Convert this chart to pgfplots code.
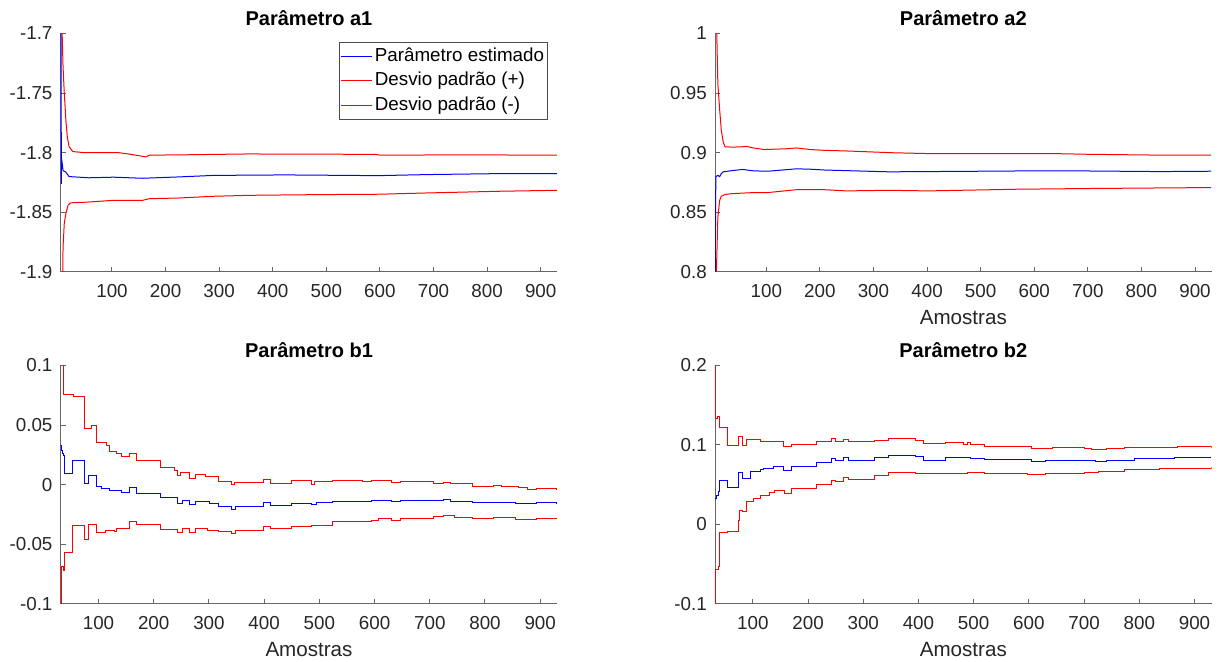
\documentclass[border=0pt]{standalone}
\usepackage{fontspec}
\setmainfont{Liberation Sans}
\usepackage{pgfplots}
\pgfplotsset{compat=1.18}
\pgfplotsset{
 mstyle/.style={
  scale only axis, width=248.3pt, height=119.25pt,
  axis x line*=bottom, axis y line*=left,
  axis line style={black!60, line width=0.5pt, -},
  tick style={black!60, line width=0.5pt},
  tick align=inside, major tick length=2.5pt,
  xtick={100,200,...,900},
  ticklabel style={font=\fontsize{9.4}{11}\selectfont, text=black!85},
  /pgf/number format/assume math mode=true,
  xticklabel style={yshift=-2.5pt},
  yticklabel style={xshift=-0.6pt},
  every axis title shift=0pt,
  title style={font=\bfseries\fontsize{10}{12}\selectfont, at={(0.5,1)}, anchor=base, yshift=4pt},
  xlabel style={font=\fontsize{10.3}{12}\selectfont, text=black!85, at={(0.5,0)}, anchor=north, yshift=-15.4pt},
  every axis plot/.append style={line width=0.5pt},
 },
 astyle/.style={mstyle, xmin=4.3, xmax=931},
 bstyle/.style={mstyle, xmin=31.5, xmax=931, every axis plot/.append style={const plot}},
}
\begin{document}
\begin{tikzpicture}
\path[use as bounding box] (0,0) rectangle (610pt,331pt);
% ---------------- a1
\begin{axis}[astyle, at={(30.35pt,195pt)}, anchor=south west,
  title={Parâmetro a1},
  ymin=-1.9, ymax=-1.7, ytick={-1.9,-1.85,-1.8,-1.75,-1.7},
  yticklabels={-1.9,-1.85,-1.8,-1.75,-1.7},
  legend style={at={(rel axis cs:0.9805,0.964)}, anchor=north east,
    font=\fontsize{9.4}{11}\selectfont, draw=black!70, line width=0.5pt,
    inner xsep=0.3pt, inner ysep=0.5pt, row sep=-0.85pt,
    cells={anchor=west}, nodes={inner xsep=1.2pt, inner ysep=2pt, text height=7pt, text depth=2pt}},
  legend image code/.code={\draw[#1] (0pt,0pt) -- (15.5pt,0pt);},
]
\addplot[blue] coordinates {(5,-1.70) (5.5,-1.826) (6,-1.805) (8.7,-1.815) (13,-1.816) (15,-1.817) (20,-1.820) (57,-1.821) (103,-1.8205) (157,-1.8214) (223,-1.8203) (290,-1.819) (423,-1.8186) (597,-1.8192) (690,-1.8183) (823,-1.8175) (930,-1.8175)};
\addlegendentry{Parâmetro estimado}
\addplot[red] coordinates {(5,-1.65) (7,-1.70) (8.7,-1.728) (11,-1.75) (14,-1.773) (16.7,-1.787) (20,-1.795) (27,-1.799) (50,-1.8) (70,-1.8) (110,-1.7998) (130,-1.801) (157,-1.803) (163,-1.8035) (170,-1.802) (223,-1.8018) (357,-1.801) (423,-1.8012) (590,-1.8013) (600,-1.802) (757,-1.8018) (930,-1.802)};
\addlegendentry{Desvio padrão (+)}
\addplot[red] coordinates {(6.7,-1.95) (8.7,-1.879) (11,-1.859) (14,-1.851) (18,-1.844) (23,-1.842) (50,-1.8415) (103,-1.8399) (157,-1.8399) (170,-1.8385) (223,-1.838) (290,-1.8365) (357,-1.8357) (490,-1.8351) (597,-1.8348) (690,-1.8337) (823,-1.8323) (930,-1.8315)};
\addlegendentry{Desvio padrão (-)}
\end{axis}
% ---------------- a2
\begin{axis}[astyle, at={(357.5pt,195pt)}, anchor=south west,
  title={Parâmetro a2}, xlabel={Amostras},
  ymin=0.8, ymax=1, ytick={0.8,0.85,0.9,0.95,1},
  yticklabels={0.8,0.85,0.9,0.95,1},
]
\addplot[blue] coordinates {(4.5,0.78) (5.5,0.862) (6,0.88) (9.6,0.881) (13,0.880) (16,0.8825) (19.6,0.884) (36,0.885) (56,0.886) (76,0.8848) (103,0.8845) (156,0.8865) (182,0.8862) (209,0.8855) (249,0.885) (329,0.884) (402,0.8842) (568,0.8847) (701,0.8847) (834,0.8842) (930,0.8845)};
\addplot[red] coordinates {(6,1.05) (7.6,1.0) (9.6,0.958) (13,0.936) (16,0.919) (19.6,0.909) (23,0.905) (36,0.9047) (56,0.905) (63,0.9053) (76,0.904) (96,0.9027) (136,0.9033) (156,0.904) (182,0.9027) (209,0.902) (249,0.9015) (295,0.9007) (335,0.9) (402,0.8993) (501,0.8993) (634,0.8993) (701,0.8987) (834,0.898) (930,0.898)};
\addplot[red] coordinates {(6.3,0.79) (9.6,0.846) (13,0.86) (16,0.8635) (23,0.865) (36,0.8657) (76,0.8666) (103,0.8666) (156,0.869) (209,0.869) (249,0.868) (329,0.8685) (402,0.868) (568,0.8694) (701,0.87) (930,0.8708)};
\end{axis}
% ---------------- b1
\begin{axis}[bstyle, at={(30.35pt,29pt)}, anchor=south west,
  title={Parâmetro b1}, xlabel={Amostras},
  ymin=-0.1, ymax=0.1, ytick={-0.1,-0.05,0,0.05,0.1},
  yticklabels={-0.1,-0.05,0,0.05,0.1},
]
\addplot[blue] coordinates {(31,0.033) (33,0.029) (35,0.0265) (37,0.0247) (38.5,0.0093) (53.6,0.02) (74.7,0.001) (82.5,0.0076) (96,-0.0018) (105,-0.003) (120,-0.005) (141,-0.0069) (156,-0.0024) (168,-0.0074) (213,-0.011) (243,-0.0158) (252,-0.013) (265,-0.0166) (275,-0.0138) (301,-0.0158) (317,-0.018) (340,-0.0205) (349,-0.018) (398,-0.0152) (411,-0.0172) (450,-0.0158) (485,-0.0163) (495,-0.015) (524,-0.0138) (595,-0.013) (631,-0.0144) (647,-0.0135) (667,-0.013) (706,-0.0135) (725,-0.0122) (738,-0.0144) (777,-0.0152) (816,-0.0146) (855,-0.0158) (893,-0.0152) (930,-0.016)};
\addplot[red] coordinates {(31,0.12) (37,0.0757) (54,0.074) (75,0.047) (87,0.0498) (96,0.0358) (114,0.033) (120,0.028) (132,0.026) (141,0.0233) (156,0.0258) (168,0.0205) (213,0.0143) (237,0.012) (243,0.0079) (249,0.0099) (265,0.0051) (275,0.0085) (294,0.0065) (317,0.0024) (340,0.0004) (346,0.0018) (398,0.0043) (411,0.001) (450,0.0032) (485,0.0004) (492,0.0024) (524,0.0032) (579,0.0024) (595,0.0038) (631,0.0018) (647,0.003) (699,0.0026) (706,0.001) (725,0.0018) (738,0.0007) (777,-0.0013) (816,-0.0004) (829,-0.0013) (861,-0.0024) (877,-0.004) (893,-0.0032) (930,-0.004)};
\addplot[red] coordinates {(31,-0.12) (33,-0.0688) (37,-0.0716) (39,-0.0568) (53.6,-0.034) (74.7,-0.0456) (82.5,-0.0334) (96,-0.040) (112.6,-0.038) (129,-0.039) (132,-0.037) (156,-0.0306) (168,-0.0334) (213,-0.0373) (243,-0.0403) (252,-0.0367) (265,-0.040) (275,-0.0367) (298,-0.038) (317,-0.039) (340,-0.0406) (349,-0.038) (398,-0.0353) (411,-0.037) (450,-0.0348) (485,-0.034) (524,-0.0311) (595,-0.0303) (608,-0.0283) (631,-0.0297) (647,-0.0283) (706,-0.027) (725,-0.0261) (745,-0.0278) (777,-0.0283) (816,-0.0278) (855,-0.0289) (893,-0.0281) (930,-0.0283)};
\end{axis}
% ---------------- b2
\begin{axis}[bstyle, at={(357.5pt,29pt)}, anchor=south west,
  title={Parâmetro b2}, xlabel={Amostras},
  ymin=-0.1, ymax=0.2, ytick={-0.1,0,0.1,0.2},
  yticklabels={-0.1,0,0.1,0.2},
]
\addplot[blue] coordinates {(32,0.0326) (35,0.037) (38,0.041) (40,0.0557) (55,0.0464) (74,0.065) (82,0.0577) (96,0.067) (113,0.0695) (119,0.071) (137,0.0732) (155,0.068) (170,0.0724) (216,0.0774) (243,0.083) (249,0.080) (264,0.0837) (273,0.081) (320,0.0842) (346,0.087) (394,0.0854) (410,0.081) (449,0.084) (495,0.0833) (520,0.082) (605,0.079) (630,0.080) (721,0.079) (740,0.081) (792,0.083) (863,0.0846) (930,0.0846)};
\addplot[red] coordinates {(31.5,0.25) (33,0.133) (36,0.136) (40,0.1218) (55,0.0996) (74,0.111) (82,0.0996) (89,0.1067) (113,0.104) (155,0.0975) (170,0.1) (216,0.104) (243,0.108) (249,0.104) (264,0.107) (273,0.104) (320,0.106) (346,0.108) (394,0.106) (410,0.102) (449,0.103) (482,0.1) (488,0.103) (495,0.1) (520,0.098) (605,0.096) (630,0.0954) (643,0.0965) (701,0.0958) (714,0.0946) (740,0.0958) (753,0.095) (773,0.097) (805,0.0968) (870,0.098) (930,0.0975)};
\addplot[red] coordinates {(31.5,-0.15) (33,-0.0565) (38,-0.053) (40,-0.0105) (55,-0.0084) (74,0.0054) (76,0.0172) (82,0.016) (88,0.029) (101,0.0326) (113,0.037) (131,0.0398) (140,0.0423) (158,0.039) (170,0.045) (216,0.0506) (243,0.0557) (249,0.054) (264,0.059) (273,0.0565) (320,0.0617) (346,0.0654) (394,0.064) (488,0.0658) (520,0.064) (598,0.063) (630,0.0646) (701,0.0654) (727,0.067) (773,0.0696) (837,0.0708) (930,0.0729)};
\end{axis}
\end{tikzpicture}
\end{document}
